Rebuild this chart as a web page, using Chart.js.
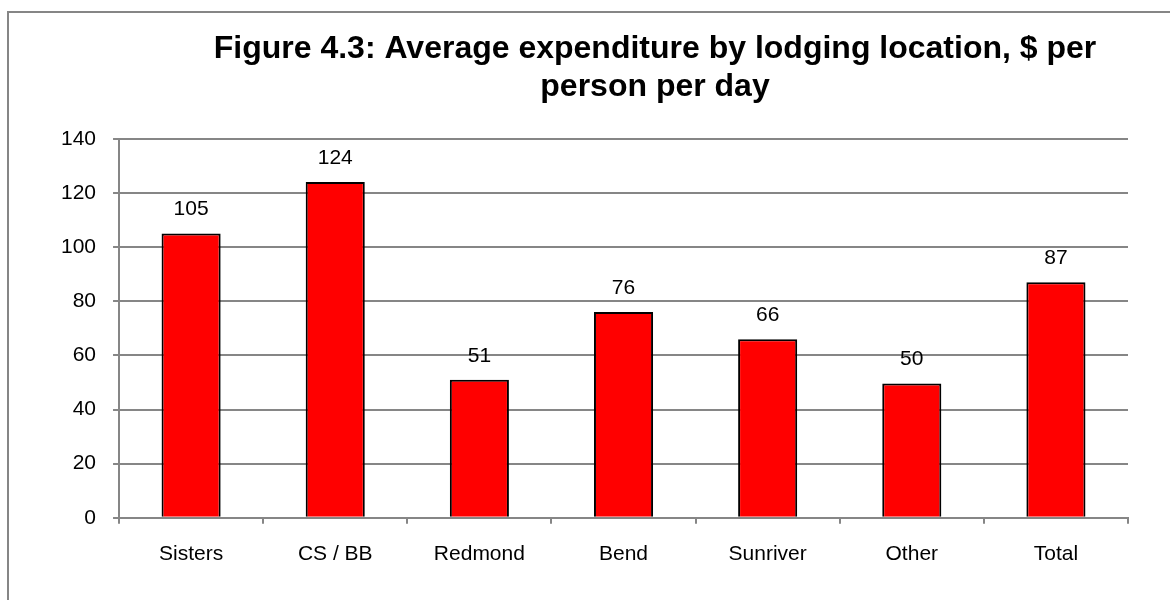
<!DOCTYPE html>
<html>
<head>
<meta charset="utf-8">
<script src="https://cdn.jsdelivr.net/npm/chart.js@4.4.1/dist/chart.umd.min.js"></script>
<style>
  html, body { margin: 0; padding: 0; background: #fff; overflow: hidden; }
  #wrap { position: relative; width: 1170px; height: 600px; }
  #frame { position: absolute; left: 7px; top: 11px; width: 1200px; height: 640px;
           border-left: 2px solid #868686; border-top: 2px solid #868686; }
  #chart-area { position: absolute; left: 0; top: 0; }
</style>
</head>
<body>
<div id="wrap">
  <div id="frame"></div>
  <canvas id="chart-area" width="1170" height="600"></canvas>
</div>
<script>
var categories = ['Sisters', 'CS / BB', 'Redmond', 'Bend', 'Sunriver', 'Other', 'Total'];
var expenditure = [105, 124, 51, 76, 66, 49.6, 87];
var yTicks = [0, 20, 40, 60, 80, 100, 120, 140];
var titleLines = ['Figure 4.3: Average expenditure by lodging location, $ per', 'person per day'];

var fontFamily = '"Liberation Sans", Arial, sans-serif';

// value labels above the bars
var barLabels = {
    id: 'barLabels',
    afterDatasetsDraw: function (chart) {
        var ctx = chart.ctx;
        var meta = chart.getDatasetMeta(0);
        ctx.save();
        ctx.font = '21px ' + fontFamily;
        ctx.fillStyle = '#000';
        ctx.textAlign = 'center';
        ctx.textBaseline = 'middle';
        meta.data.forEach(function (bar, i) {
            ctx.fillText(Math.round(expenditure[i]), bar.x, bar.y - 24);
        });
        ctx.restore();
    }
};

// the title in the original sits right of the plot centre
var titleShift = {
    id: 'titleShift',
    afterLayout: function (chart) {
        if (chart.titleBlock) {
            chart.titleBlock.left += 69;
            chart.titleBlock.right += 69;
        }
    }
};

var config = {
    type: 'bar',
    data: {
        labels: categories,
        datasets: [{
            data: expenditure,
            backgroundColor: '#FF0000',
            borderColor: '#000000',
            borderWidth: 2,
            barPercentage: 0.41,
            categoryPercentage: 1.0
        }]
    },
    options: {
        responsive: false,
        animation: false,
        layout: {
            padding: { left: 44, right: 42, top: 0, bottom: 15 }
        },
        plugins: {
            legend: { display: false },
            tooltip: { enabled: false },
            title: {
                display: true,
                text: titleLines,
                color: '#000',
                font: { family: fontFamily, size: 32, weight: 'bold', lineHeight: 1.2 },
                padding: { top: 30, bottom: 32 }
            }
        },
        scales: {
            x: {
                grid: {
                    drawOnChartArea: false,
                    drawTicks: true,
                    tickLength: 6,
                    color: '#868686',
                    lineWidth: 2
                },
                border: { color: '#868686', width: 2 },
                ticks: {
                    color: '#000',
                    padding: 18,
                    font: { family: fontFamily, size: 21 }
                }
            },
            y: {
                min: 0,
                max: 140,
                afterBuildTicks: function (axis) {
                    axis.ticks = yTicks.map(function (v) { return { value: v }; });
                },
                grid: {
                    color: '#868686',
                    lineWidth: 2,
                    tickLength: 6
                },
                border: { color: '#868686', width: 2 },
                ticks: {
                    color: '#000',
                    padding: 17,
                    font: { family: fontFamily, size: 21 }
                }
            }
        }
    },
    plugins: [barLabels, titleShift]
};

var ctx = document.getElementById('chart-area').getContext('2d');
window.myBar = new Chart(ctx, config);
</script>
</body>
</html>
